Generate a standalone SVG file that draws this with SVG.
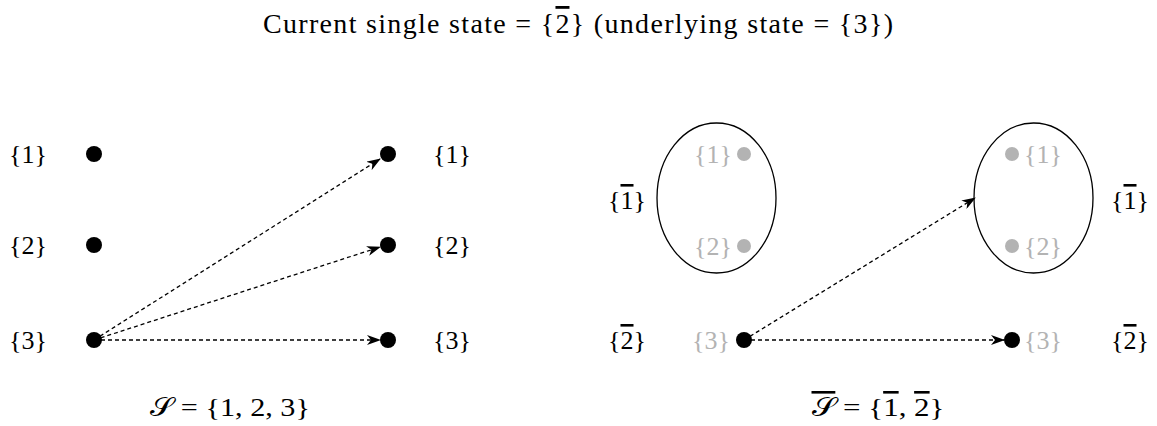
<svg xmlns="http://www.w3.org/2000/svg" width="1157" height="426" viewBox="0 0 1157 426">
<defs>
<marker id="arr" viewBox="0 0 14 10" refX="13" refY="5" markerWidth="14" markerHeight="10" markerUnits="userSpaceOnUse" orient="auto">
<path d="M0,0 L14,5 L0,10 L4,5 Z" fill="#000"/>
</marker>
</defs>
<style>
text{font-family:"Liberation Serif","DejaVu Serif",serif;font-size:26px;fill:#000;text-anchor:middle}
.title{font-size:28px}
.g{fill:#b3b3b3}
.ov{text-decoration:overline}
.dot{fill:#000}
.gdot{fill:#b3b3b3}
.edge{fill:none;stroke:#000;stroke-width:1.3;stroke-dasharray:4 3}
.ell{fill:none;stroke:#000;stroke-width:1.3}
</style>
<text class="title" x="578" y="33" textLength="630" lengthAdjust="spacing">Current single state = {<tspan class="ov">2</tspan>} (underlying state = {3})</text>
<g id="connectors">
<line class="edge" x1="94" y1="340" x2="380" y2="159" marker-end="url(#arr)"/>
<line class="edge" x1="94" y1="340" x2="380" y2="247" marker-end="url(#arr)"/>
<line class="edge" x1="94" y1="340" x2="380" y2="340" marker-end="url(#arr)"/>
<line class="edge" x1="744" y1="340" x2="975" y2="198" marker-end="url(#arr)"/>
<line class="edge" x1="744" y1="340" x2="1004" y2="340" marker-end="url(#arr)"/>
</g>
<g id="L1"><circle class="dot" cx="94" cy="154" r="8"/><text x="28" y="163">{1}</text></g>
<g id="L2"><circle class="dot" cx="94" cy="245" r="8"/><text x="28" y="254">{2}</text></g>
<g id="L3"><circle class="dot" cx="94" cy="340" r="8"/><text x="28" y="349">{3}</text></g>
<g id="R1"><circle class="dot" cx="388" cy="154" r="8"/><text x="452" y="163">{1}</text></g>
<g id="R2"><circle class="dot" cx="388" cy="245" r="8"/><text x="452" y="254">{2}</text></g>
<g id="R3"><circle class="dot" cx="388" cy="340" r="8"/><text x="452" y="349">{3}</text></g>
<g id="labelS"><text x="230" y="416" textLength="160" lengthAdjust="spacingAndGlyphs">𝒮 = {1, 2, 3}</text></g>
<g id="A1">
<ellipse class="ell" cx="716.5" cy="198" rx="59.5" ry="75"/>
<circle class="gdot" cx="744" cy="154" r="7"/><text class="g" x="713" y="163">{1}</text>
<circle class="gdot" cx="744" cy="246" r="7"/><text class="g" x="713" y="255">{2}</text>
<text x="627" y="209">{<tspan class="ov">1</tspan>}</text>
</g>
<g id="A2">
<circle class="dot" cx="744" cy="340" r="8"/><text class="g" x="711" y="349">{3}</text>
<text x="627" y="349">{<tspan class="ov">2</tspan>}</text>
</g>
<g id="B1">
<ellipse class="ell" cx="1033.5" cy="198" rx="59.5" ry="75"/>
<circle class="gdot" cx="1012" cy="154" r="7"/><text class="g" x="1043" y="163">{1}</text>
<circle class="gdot" cx="1012" cy="246" r="7"/><text class="g" x="1043" y="255">{2}</text>
<text x="1130" y="209">{<tspan class="ov">1</tspan>}</text>
</g>
<g id="B2">
<circle class="dot" cx="1012" cy="340" r="8"/><text class="g" x="1043" y="349">{3}</text>
<text x="1130" y="349">{<tspan class="ov">2</tspan>}</text>
</g>
<g id="labelSbar"><text x="878" y="416" textLength="133" lengthAdjust="spacingAndGlyphs"><tspan class="ov">𝒮</tspan> = {<tspan class="ov">1</tspan>, <tspan class="ov">2</tspan>}</text></g>
</svg>
